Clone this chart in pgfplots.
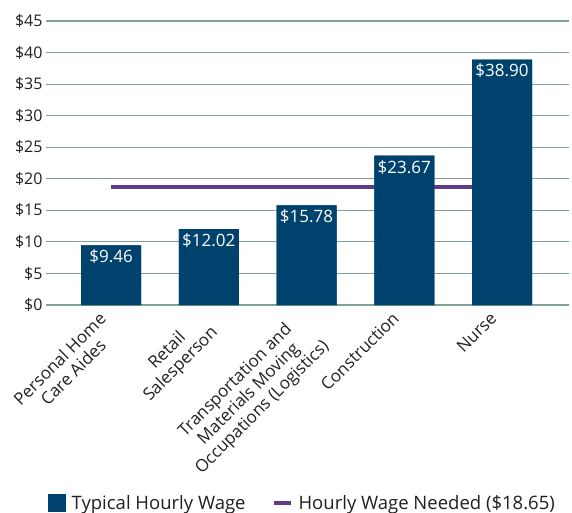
\documentclass[border=0pt]{standalone}
\usepackage{fontspec}
\setmainfont{Open Sans}
\usepackage{pgfplots}
\pgfplotsset{compat=1.18}
\definecolor{barblue}{RGB}{0,66,110}
\definecolor{needpurple}{RGB}{96,60,133}
\definecolor{gridgreen}{RGB}{128,162,150}
\definecolor{txt}{RGB}{35,31,32}
\newcommand\lbl{\fontsize{16bp}{19bp}\selectfont}
\newcommand\xlbl{\fontsize{17bp}{19bp}\selectfont}
\newcommand\lgd{\fontsize{18.5bp}{20bp}\selectfont}
\begin{document}
\begin{tikzpicture}
\begin{axis}[
  scale only axis,
  width=523bp, height=284bp,
  xmin=-0.665, xmax=4.685,
  ymin=0, ymax=45,
  ytick={0,5,...,45},
  yticklabels={\$0,\$5,\$10,\$15,\$20,\$25,\$30,\$35,\$40,\$45},
  xtick={0,1,2,3,4},
  xticklabels={Personal Home\\Care Aides, Retail\\Salesperson, Transportation and\\Materials Moving\\Occupations (Logistics), Construction, Nurse},
  xticklabel style={xshift=-13bp, yshift=-1bp, rotate=45, anchor=north east, align=center, font=\xlbl, text=txt},
  yticklabel style={font=\lbl, text=txt},
  major tick length=0pt,
  ymajorgrids,
  grid style={gridgreen, line width=1.2bp},
  axis line style={draw=none},
  legend style={at={(rel axis cs:0.490,-0.697)}, anchor=center, draw=none, font=\lgd, text=txt, legend columns=2, column sep=4bp,
    /tikz/every even column/.append style={column sep=24bp}},
  clip=false,
]
\addplot[barblue, fill=barblue, ybar, bar width=60bp, draw=none,
  nodes near coords={\$\pgfmathprintnumber[fixed,fixed zerofill,precision=2,assume math mode=true]{\pgfplotspointmeta}},
  nodes near coords align={below},
  every node near coord/.append style={font=\xlbl, text=white, yshift=-1bp},
  legend image code/.code={\fill[barblue] (0bp,-9bp) rectangle (18bp,9bp);}
] coordinates {(0,9.46) (1,12.02) (2,15.78) (3,23.67) (4,38.90)};
\addlegendentry{Typical Hourly Wage}
\addplot[needpurple, line width=4bp, forget plot] coordinates {(0,18.65) (4,18.65)};
\addplot[barblue, fill=barblue, ybar, bar width=60bp, draw=none, forget plot] coordinates {(0,9.46) (1,12.02) (2,15.78) (3,23.67) (4,38.90)};
\addlegendimage{needpurple, line width=4bp, legend image code/.code={\draw[needpurple, line width=4bp] (0bp,0bp) -- (17bp,0bp);}}
\addlegendentry{Hourly Wage Needed (\$18.65)}
\end{axis}
\pgfresetboundingbox
\path ([shift={(-46bp,-208bp)}]current axis.south west) rectangle ([shift={(526bp,305bp)}]current axis.south west);
\end{tikzpicture}
\end{document}
